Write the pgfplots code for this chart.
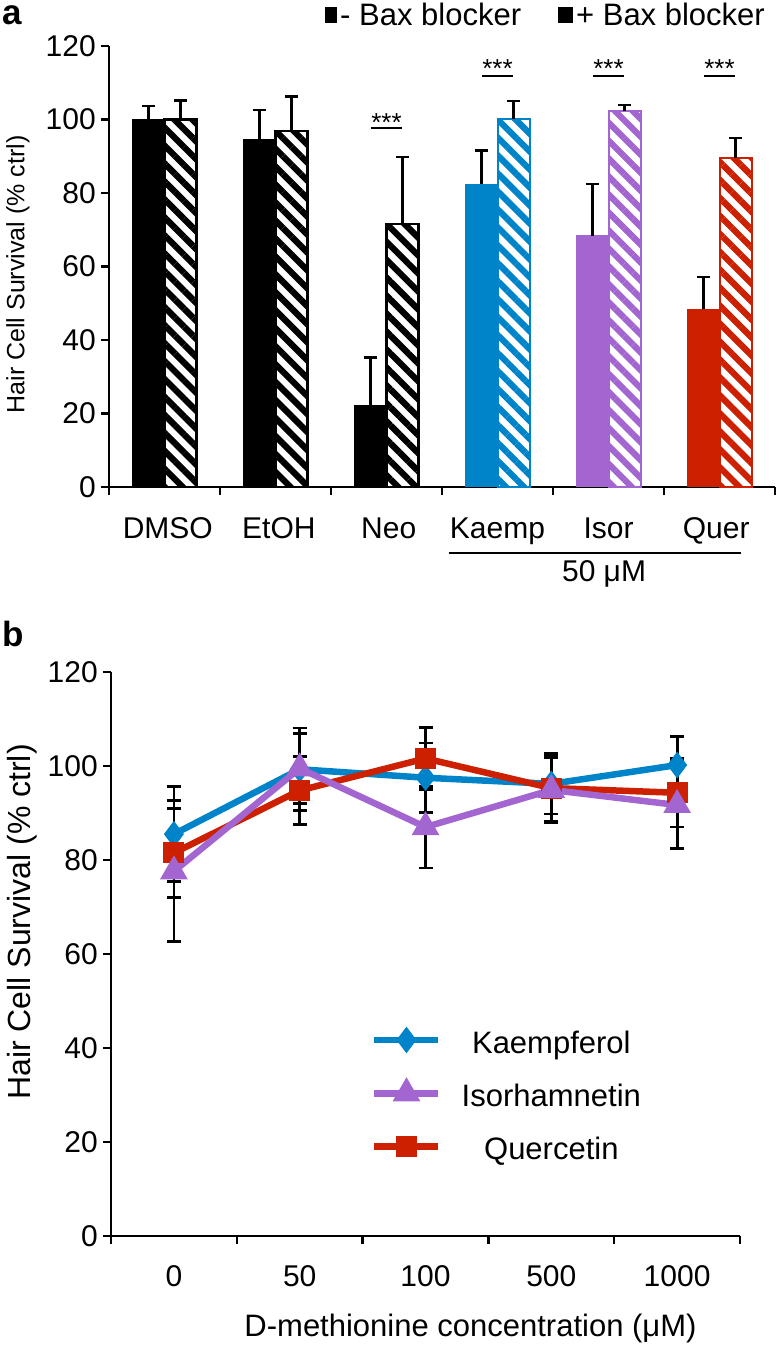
\documentclass[border=0pt]{standalone}
\usepackage{fontspec}
\setmainfont{Liberation Sans}
\usepackage{pgfplots}
\pgfplotsset{compat=1.18}
\usetikzlibrary{patterns.meta}
\definecolor{cblue}{RGB}{0,132,201}
\definecolor{cpurple}{RGB}{163,102,209}
\definecolor{cred}{RGB}{204,32,0}
\newcommand{\ftick}{\fontsize{30bp}{36bp}\selectfont}
\newcommand{\fleg}{\fontsize{31bp}{37bp}\selectfont}
\newcommand{\fstar}{\fontsize{26bp}{30bp}\selectfont}
\pgfplotsset{
  myax/.style={
    scale only axis, clip=false,
    axis lines*=left,
    axis line style={line width=2.5bp, black, -},
    tick align=outside,
    major tick length=8bp, minor tick length=8bp,
    tick style={line width=2.5bp, black},
    ymin=0, ymax=120, ytick={0,20,...,120},
    /pgf/number format/assume math mode=true,
    tick label style={font=\ftick},
    yticklabel style={anchor=east, inner sep=0pt, xshift=-5bp},
    xticklabels={},
  },
  ebar/.style={error bars/y dir=plus, error bars/y explicit,
    error bars/error bar style={line width=2.5bp, black, solid},
    error bars/error mark options={rotate=90, black, mark size=6.5bp, line width=2.5bp}},
  ebarb/.style={error bars/y dir=both, error bars/y explicit,
    error bars/error bar style={line width=2.8bp, black, solid},
    error bars/error mark options={rotate=90, black, mark size=7bp, line width=2.8bp}},
  hatch/.style={pattern={Lines[angle=-45,distance=12.7bp,line width=6.3bp]}, pattern color=#1},
  bara/.style={ybar, bar width=0.29, bar shift=0},
}
\begin{document}
\begin{tikzpicture}[x=1bp,y=1bp]
\useasboundingbox (0,0) rectangle (777,1346);
\node[anchor=base west, font=\fontsize{35bp}{40bp}\selectfont\bfseries, inner sep=0pt] at (2,1321) {a};
\node[anchor=base west, font=\fontsize{35bp}{40bp}\selectfont\bfseries, inner sep=0pt] at (2,699) {b};

% ---------------- panel a
\begin{axis}[myax,
  at={(109bp,859bp)}, anchor=south west,
  width=666bp, height=441bp,
  xmin=0, xmax=6,
  xtick={0,1,...,6},
  ylabel={Hair Cell Survival (\% ctrl)},
  every axis y label/.style={at={(rel axis cs:0,0.5)}, xshift=-91bp, yshift=-8bp, rotate=90, anchor=center,
    font=\fontsize{25bp}{30bp}\selectfont},
  legend columns=2,
  legend style={at={(0.985,1.0703)}, anchor=east, draw=none, fill=none,
    inner sep=0pt, font=\fleg, nodes={inner sep=0pt}, column sep=3bp},
]
\addplot[bara, fill=black, draw=black, line width=1.5bp, ebar,
  legend image code/.code={\fill[black] (0bp,-7.5bp) rectangle (11bp,7.5bp);}]
  coordinates {(0.355,100) +- (0,3.6) (1.355,94.6) +- (0,8) (2.355,22.2) +- (0,13)};
\addlegendentry{- Bax blocker\hspace*{34bp}}
\addplot[bara, draw=black, line width=2.5bp, hatch=black, ebar,
  legend image code/.code={\draw[black,line width=1.6bp] (0bp,-7bp) rectangle (13bp,7bp);
     \draw[black,line width=3bp] (0.5bp,6.5bp) -- (12.5bp,-6.5bp);}]
  coordinates {(0.645,100) +- (0,5.2) (1.645,96.9) +- (0,9.4) (2.645,71.5) +- (0,18.3)};
\addlegendentry{+ Bax blocker}
\addplot[forget plot, bara, fill=cblue, draw=cblue, line width=1bp, ebar]
  coordinates {(3.355,82.4) +- (0,9.2)};
\addplot[forget plot, bara, draw=cblue, line width=2bp, hatch=cblue, ebar]
  coordinates {(3.645,100.0) +- (0,5.0)};
\addplot[forget plot, bara, fill=cpurple, draw=cpurple, line width=1bp, ebar]
  coordinates {(4.355,68.3) +- (0,14.2)};
\addplot[forget plot, bara, draw=cpurple, line width=2bp, hatch=cpurple, ebar]
  coordinates {(4.645,102.3) +- (0,1.7)};
\addplot[forget plot, bara, fill=cred, draw=cred, line width=1bp, ebar]
  coordinates {(5.355,48.3) +- (0,8.9)};
\addplot[forget plot, bara, draw=cred, line width=2bp, hatch=cred, ebar]
  coordinates {(5.645,89.6) +- (0,5.3)};
% category labels
\node[anchor=base, font=\ftick, inner sep=0pt] at (axis cs:0.53,-13.9) {DMSO};
\node[anchor=base, font=\ftick, inner sep=0pt] at (axis cs:1.53,-13.9) {EtOH};
\node[anchor=base, font=\ftick, inner sep=0pt] at (axis cs:2.52,-13.9) {Neo};
\node[anchor=base, font=\ftick, inner sep=0pt] at (axis cs:3.50,-13.9) {Kaemp};
\node[anchor=base, font=\ftick, inner sep=0pt] at (axis cs:4.50,-13.9) {Isor};
\node[anchor=base, font=\ftick, inner sep=0pt] at (axis cs:5.47,-13.9) {Quer};
% significance marks
\node[anchor=base, font=\fstar, inner sep=0pt] at (axis cs:2.5,96.6) {***};
\draw[line width=2.5bp] (axis cs:2.36,97.7) -- (axis cs:2.64,97.7);
\node[anchor=base, font=\fstar, inner sep=0pt] at (axis cs:3.5,111.3) {***};
\draw[line width=2.5bp] (axis cs:3.36,111.8) -- (axis cs:3.64,111.8);
\node[anchor=base, font=\fstar, inner sep=0pt] at (axis cs:4.5,111.3) {***};
\draw[line width=2.5bp] (axis cs:4.36,111.8) -- (axis cs:4.64,111.8);
\node[anchor=base, font=\fstar, inner sep=0pt] at (axis cs:5.5,111.3) {***};
\draw[line width=2.5bp] (axis cs:5.36,111.8) -- (axis cs:5.64,111.8);
\draw[line width=2bp] (axis cs:3.06,-18) -- (axis cs:5.69,-18);
\node[font=\ftick, anchor=center] at (axis cs:4.46,-23.6) {50 μM};
\end{axis}

% ---------------- panel b
\begin{axis}[myax,
  at={(111bp,110bp)}, anchor=south west,
  width=629bp, height=564bp,
  xmin=0, xmax=5,
  xtick={0,1,...,5},
  ylabel={Hair Cell Survival (\% ctrl)},
  every axis y label/.style={at={(rel axis cs:0,0.5)}, xshift=-89bp, yshift=32bp, rotate=90, anchor=center,
    font=\fontsize{32bp}{38bp}\selectfont},
  xlabel={D-methionine concentration (μM)},
  every axis x label/.style={at={(rel axis cs:0.5,0)}, anchor=center, xshift=45bp, yshift=-92bp, font=\fleg},
  legend cell align=center,
  legend style={at={(0.4134,0.374)}, anchor=north west, draw=none, fill=none,
    inner sep=0pt, font=\fleg, nodes={inner sep=0pt}, column sep=20bp, row sep=23.5bp},
  legend image code/.code={\draw[#1, mark repeat=2, mark phase=2] plot coordinates {(0bp,0bp) (32bp,0bp) (64bp,0bp)};},
]
\addplot[forget plot, cblue, line width=6.5bp, mark=diamond*, mark size=12.5bp, mark options={solid, line width=1bp}, ebarb]
  coordinates {(0.5,85.5) +- (0,10.1) (1.5,99.3) +- (0,8.8) (2.5,97.5) +- (0,7.4) (3.5,96.2) +- (0,6.4) (4.5,100.2) +- (0,6.0)};
\addplot[forget plot, cred, line width=6.5bp, mark=square*, mark size=10bp, mark options={solid, line width=1bp}, ebarb]
  coordinates {(0.5,81.5) +- (0,9.5) (1.5,94.8) +- (0,7.3) (2.5,101.6) +- (0,6.6) (3.5,95.3) +- (0,7.1) (4.5,94.3) +- (0,7.3)};
\addplot[forget plot, cpurple, line width=6.5bp, mark=triangle*, mark size=15bp, mark options={solid, line width=1bp}, ebarb]
  coordinates {(0.5,77.6) +- (0,15.0) (1.5,99.5) +- (0,7.4) (2.5,87.0) +- (0,8.7) (3.5,94.9) +- (0,6.9) (4.5,91.7) +- (0,9.2)};
\addlegendimage{cblue, line width=6.5bp, mark=diamond*, mark size=12.5bp, mark options={solid, line width=1bp}}
\addlegendentry{\rule[-6bp]{0pt}{34bp}Kaempferol}
\addlegendimage{cpurple, line width=6.5bp, mark=triangle*, mark size=15bp, mark options={solid, line width=1bp}}
\addlegendentry{\rule[-6bp]{0pt}{34bp}Isorhamnetin}
\addlegendimage{cred, line width=6.5bp, mark=square*, mark size=10bp, mark options={solid, line width=1bp}}
\addlegendentry{\rule[-6bp]{0pt}{34bp}Quercetin}
% x tick labels
\node[anchor=base, font=\ftick, inner sep=0pt] at (axis cs:0.5,-10.85) {0};
\node[anchor=base, font=\ftick, inner sep=0pt] at (axis cs:1.5,-10.85) {50};
\node[anchor=base, font=\ftick, inner sep=0pt] at (axis cs:2.5,-10.85) {100};
\node[anchor=base, font=\ftick, inner sep=0pt] at (axis cs:3.5,-10.85) {500};
\node[anchor=base, font=\ftick, inner sep=0pt] at (axis cs:4.5,-10.85) {1000};
\end{axis}
\end{tikzpicture}
\end{document}
